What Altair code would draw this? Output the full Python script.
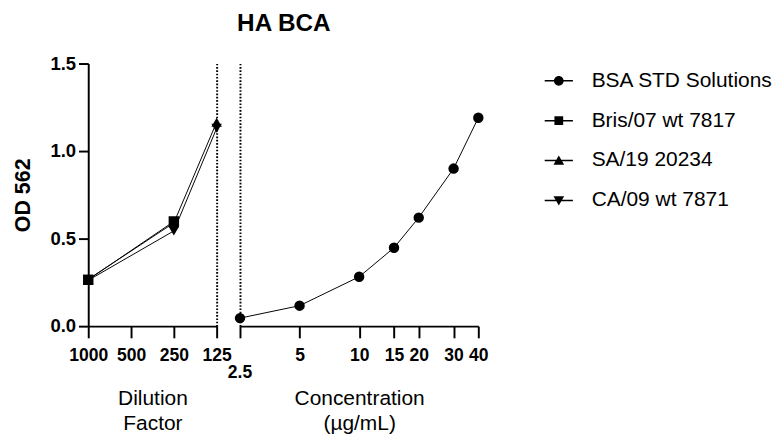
import altair as alt
import pandas as pd

FONT = "Liberation Sans"

series_names = ["BSA STD Solutions", "Bris/07 wt 7817", "SA/19 20234", "CA/09 wt 7871"]
series_shapes = ["circle", "square", "triangle-up", "triangle-down"]

# BSA standard curve (right panel)
bsa_conc = [2.5, 5, 10, 15, 20, 30, 40]
bsa_od = [0.046, 0.117, 0.282, 0.448, 0.62, 0.90, 1.19]

# HA samples (left panel)
bris_dil = [1000, 250]
bris_od = [0.265, 0.598]
sa19_dil = [1000, 250, 125]
sa19_od = [0.268, 0.59, 1.165]
ca09_dil = [1000, 250, 125]
ca09_od = [0.262, 0.544, 1.13]

dilution_ticks = [1000, 500, 250, 125]
conc_ticks = [2.5, 5, 10, 15, 20, 30, 40]
od_ticks = [0.0, 0.5, 1.0, 1.5]

left_df = pd.concat([
    pd.DataFrame({"series": series_names[1], "dilution": bris_dil, "od": bris_od}),
    pd.DataFrame({"series": series_names[2], "dilution": sa19_dil, "od": sa19_od}),
    pd.DataFrame({"series": series_names[3], "dilution": ca09_dil, "od": ca09_od}),
], ignore_index=True)
right_df = pd.DataFrame({"series": series_names[0], "conc": bsa_conc, "od": bsa_od})
legend_df = pd.DataFrame({"series": series_names})
stagger_df = pd.DataFrame({"conc": [2.5], "label": ["2.5"]})

# legend glyphs: short line with the marker on it (filled paths, unit = half symbol width)
BAR = "M-2.9,-0.15H2.9V0.15H-2.9Z "
legend_paths = [
    BAR + "M1,0A1,1 0 1,1 -1,0A1,1 0 1,1 1,0Z",
    BAR + "M-0.9,-0.9H0.9V0.9H-0.9Z",
    BAR + "M0,-1.05L1.1,0.85H-1.1Z",
    BAR + "M0,1.05L-1.1,-0.85H1.1Z",
]

axis_common = dict(
    domainColor="black", domainWidth=2, tickColor="black", tickWidth=2,
    labelColor="black", titleColor="black", grid=False,
    labelFont=FONT, titleFont=FONT,
)
dotted_axis = dict(labels=False, ticks=False, title=None, domainDash=[1.7, 1.7],
                   domainWidth=2, domainColor="black", grid=False)

H = 270
y_dom = [0, 1.5]

# ---------- left panel ----------
left_x = alt.X(
    "dilution:Q",
    scale=alt.Scale(type="log", domain=[125, 1000], reverse=True, nice=False),
    axis=alt.Axis(values=dilution_ticks, format="d", title=["Dilution", "Factor"],
                  labelFontSize=18, labelFontWeight="bold", tickSize=12, labelPadding=9,
                  labelOverlap=False, labelFlush=False, labelBound=False,
                  titleFontSize=21.5, titleFontWeight="normal", titleLineHeight=25,
                  titleBaseline="top", titleY=64, **axis_common),
)
left_y = alt.Y(
    "od:Q", scale=alt.Scale(domain=y_dom, nice=False, zero=False),
    axis=alt.Axis(values=od_ticks, format=".1f", title="OD 562",
                  labelFontSize=19, labelFontWeight="bold", tickSize=10, labelPadding=3,
                  titleFontSize=22, titleFontWeight="bold", titlePadding=15.5,
                  **axis_common),
)
left_y_break = alt.Y(
    "od:Q", scale=alt.Scale(domain=y_dom, nice=False, zero=False),
    axis=alt.Axis(orient="right", **dotted_axis),
)
left_line = alt.Chart(left_df).mark_line(color="black", strokeWidth=1).encode(
    x=left_x, y=left_y, detail="series:N"
)
left_pts = alt.Chart(left_df).mark_point(filled=True, color="black", opacity=1, size=115).encode(
    x=left_x, y=left_y_break,
    shape=alt.Shape("series:N", scale=alt.Scale(domain=series_names, range=series_shapes), legend=None),
)
left = alt.layer(left_line, left_pts).resolve_axis(y="independent").properties(width=132, height=H)

# ---------- right panel ----------
right_x = alt.X(
    "conc:Q",
    scale=alt.Scale(type="log", domain=[2.5, 40], nice=False),
    axis=alt.Axis(values=conc_ticks, title=["Concentration", "(µg/mL)"],
                  labelExpr="datum.value == 2.5 ? '' : datum.label",
                  labelFontSize=18, labelFontWeight="bold",
                  tickSize=12, labelPadding=9,
                  labelOverlap=False, labelFlush=False, labelBound=False,
                  titleFontSize=21.5, titleFontWeight="normal", titleLineHeight=25,
                  titleBaseline="top", titleY=64, **axis_common),
)
right_y = alt.Y("od:Q", scale=alt.Scale(domain=y_dom, nice=False, zero=False),
                axis=alt.Axis(orient="left", **dotted_axis))
right_line = alt.Chart(right_df).mark_line(color="black", strokeWidth=1).encode(x=right_x, y=right_y)
right_pts = alt.Chart(right_df).mark_point(
    filled=True, color="black", opacity=1, size=115, shape=series_shapes[0]
).encode(x=right_x, y=right_y)
stagger = alt.Chart(stagger_df).mark_text(
    fontSize=18, fontWeight="bold", font=FONT, color="black", baseline="middle", align="center"
).encode(x=right_x, y=alt.value(H + 48), text="label:N")
right = alt.layer(right_line, right_pts, stagger).properties(width=245, height=H)

# ---------- legend panel ----------
legend_panel = alt.Chart(legend_df).transform_filter("false").mark_point(
    filled=True, color="black", opacity=1
).encode(
    shape=alt.Shape(
        "series:N",
        scale=alt.Scale(domain=series_names, range=legend_paths),
        legend=alt.Legend(
            title=None, orient="none", legendX=48, legendY=7, padding=0,
            symbolSize=100, symbolStrokeWidth=0, symbolFillColor="black",
            labelFont=FONT, labelFontSize=21.5, labelColor="black", labelOffset=23,
            labelLimit=400, rowPadding=18,
        ),
    )
).properties(width=20, height=H)

chart = alt.hconcat(left, right, legend_panel, spacing=24, bounds="flush").resolve_scale(
    shape="independent"
).properties(
    title=alt.TitleParams("HA BCA", fontSize=25, fontWeight="bold", font=FONT, color="black",
                          anchor="start", frame="group", dx=153, offset=19),
    padding={"left": 4.5, "top": -2, "right": 2, "bottom": 2},
).configure_view(stroke=None)

chart.save("out.html", embed_options={"renderer": "svg", "actions": False})
